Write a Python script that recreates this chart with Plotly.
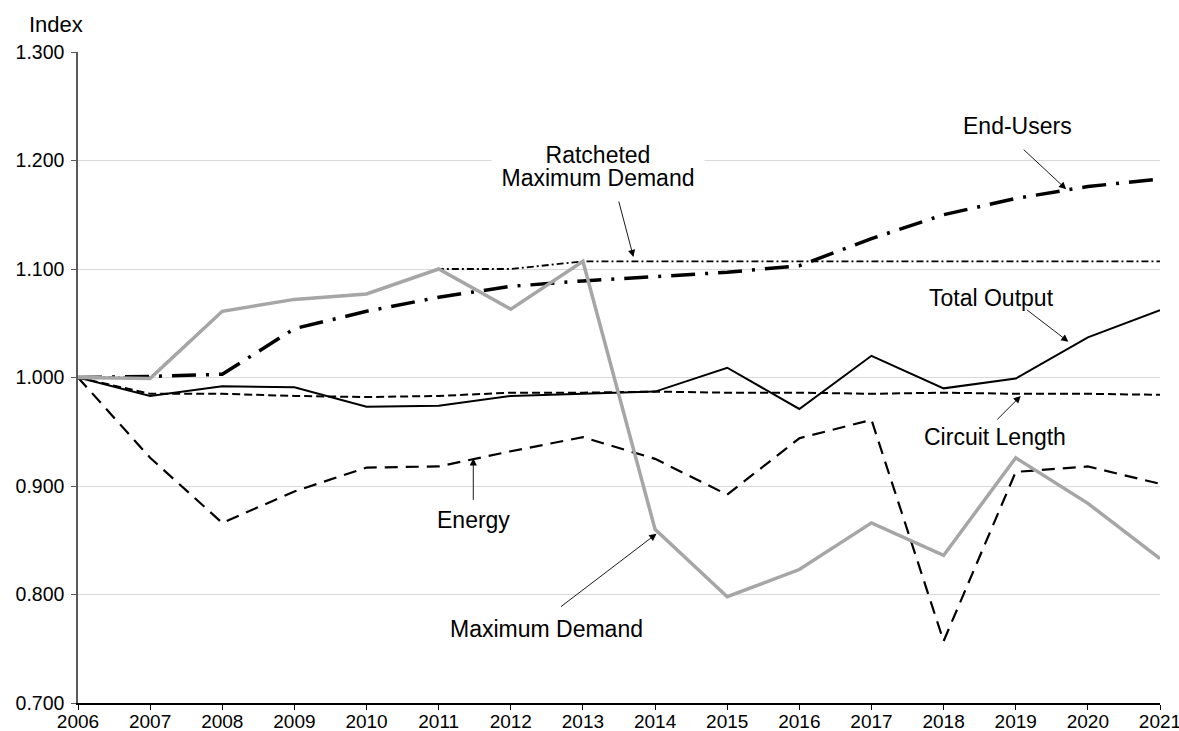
import plotly.graph_objects as go

years = list(range(2006, 2022))

total_output = [1.000, 0.983, 0.992, 0.991, 0.973, 0.974, 0.983, 0.985, 0.987, 1.009,
                0.971, 1.020, 0.990, 0.999, 1.037, 1.062]
circuit_length = [1.000, 0.985, 0.985, 0.983, 0.982, 0.983, 0.986, 0.986, 0.987, 0.986,
                  0.986, 0.985, 0.986, 0.985, 0.985, 0.984]
energy = [1.000, 0.926, 0.866, 0.895, 0.917, 0.918, 0.932, 0.945, 0.925, 0.892,
          0.944, 0.961, 0.757, 0.913, 0.918, 0.902]
maximum_demand = [1.000, 0.999, 1.061, 1.072, 1.077, 1.100, 1.063, 1.107, 0.860, 0.798,
                  0.823, 0.866, 0.836, 0.926, 0.884, 0.833]
ratcheted_max_demand = [1.000, 1.000, 1.061, 1.072, 1.077, 1.100, 1.100, 1.107, 1.107, 1.107,
                        1.107, 1.107, 1.107, 1.107, 1.107, 1.107]
end_users = [1.000, 1.001, 1.003, 1.045, 1.061, 1.074, 1.084, 1.089, 1.093, 1.097,
             1.103, 1.128, 1.150, 1.165, 1.176, 1.183]

y_ticks = [0.7, 0.8, 0.9, 1.0, 1.1, 1.2, 1.3]

FONT = "Liberation Sans, Arial, Helvetica, sans-serif"

fig = go.Figure()
fig.add_trace(go.Scatter(x=years, y=ratcheted_max_demand, mode="lines", name="Ratcheted Maximum Demand",
                         line=dict(color="black", width=1.8, dash="7px,3px,2px,3px")))
fig.add_trace(go.Scatter(x=years, y=end_users, mode="lines", name="End-Users",
                         line=dict(color="black", width=3.5, dash="24px,10px,3px,10px")))
fig.add_trace(go.Scatter(x=years, y=energy, mode="lines", name="Energy",
                         line=dict(color="black", width=2.2, dash="13px,8px")))
fig.add_trace(go.Scatter(x=years, y=circuit_length, mode="lines", name="Circuit Length",
                         line=dict(color="black", width=2, dash="8px,4px")))
fig.add_trace(go.Scatter(x=years, y=total_output, mode="lines", name="Total Output",
                         line=dict(color="black", width=2)))
fig.add_trace(go.Scatter(x=years, y=maximum_demand, mode="lines", name="Maximum Demand",
                         line=dict(color="#a6a6a6", width=3.5)))

# text labels (data coords): text, x, y, white box width
labels = [
    ("End-Users", 2019.03, 1.232, None),
    ("Ratcheted", 2013.21, 1.2055, 212),
    ("Maximum Demand", 2013.21, 1.1843, 212),
    ("Total Output", 2018.66, 1.073, None),
    ("Circuit Length", 2018.71, 0.945, None),
    ("Energy", 2011.48, 0.869, None),
    ("Maximum Demand", 2012.49, 0.768, None),
]
for txt, xx, yy, w in labels:
    kw = {}
    if w:
        kw = dict(width=w, height=21, bgcolor="white")
    fig.add_annotation(x=xx, y=yy, text=txt, showarrow=False, xref="x", yref="y",
                       font=dict(family=FONT, size=23, color="black"),
                       borderpad=0, xanchor="center", yanchor="middle", **kw)

# arrows: tip (data coords) and tail offset (pixels)
arrows = [
    (2019.70, 1.1735, -44, -41),
    (2013.70, 1.111, -15, -57),
    (2019.73, 1.033, -43, -33),
    (2019.07, 0.983, -25, 25),
    (2011.48, 0.9255, 0, 43),
    (2014.02, 0.856, -97, 74),
]
for xx, yy, ax, ay in arrows:
    fig.add_annotation(x=xx, y=yy, ax=ax, ay=ay, text="", showarrow=True,
                       arrowhead=2, arrowsize=1.6, arrowwidth=0.9, arrowcolor="black",
                       standoff=0, startstandoff=0)

fig.add_annotation(text="Index", xref="paper", yref="paper", x=-0.047, y=1.0415,
                   xanchor="left", yanchor="middle", showarrow=False,
                   font=dict(family=FONT, size=22, color="black"))

fig.update_layout(
    width=1179, height=731,
    margin=dict(l=78, r=19, t=52, b=28, autoexpand=False),
    paper_bgcolor="white", plot_bgcolor="white",
    showlegend=False,
    font=dict(family=FONT, size=19, color="black"),
)
fig.update_xaxes(range=[2006, 2021], tickmode="array", tickvals=years,
                 ticktext=[str(y) for y in years], automargin=False,
                 ticklabeloverflow="allow", ticklabelstandoff=-5,
                 showgrid=False, zeroline=False,
                 showline=True, linecolor="black", linewidth=1.5,
                 ticks="outside", ticklen=5, tickcolor="black", tickwidth=1,
                 tickfont=dict(family=FONT, size=19, color="black"))
fig.update_yaxes(range=[0.7, 1.3], tickmode="array", tickvals=y_ticks,
                 ticktext=[f"{v:.3f}" for v in y_ticks], automargin=False,
                 ticklabeloverflow="allow", ticklabelstandoff=3,
                 showgrid=True, gridcolor="#d9d9d9", gridwidth=1, zeroline=False,
                 showline=True, linecolor="#595959", linewidth=1.5,
                 ticks="outside", ticklen=5, tickcolor="#595959", tickwidth=1,
                 tickfont=dict(family=FONT, size=19.5, color="black"))

fig.write_html("out.html", config={"displayModeBar": False},
               post_script="document.body.style.margin='0px';document.body.style.overflow='hidden';")
